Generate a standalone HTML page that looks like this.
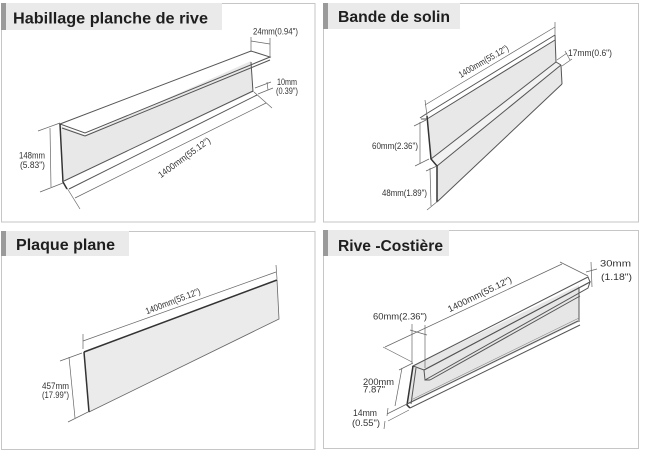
<!DOCTYPE html>
<html><head><meta charset="utf-8"><style>
html,body{margin:0;padding:0;background:#fff}
svg{display:block}
.t{font-family:"Liberation Sans",sans-serif;font-weight:bold;font-size:16px;fill:#1e1e1e}
.d{font-family:"Liberation Sans",sans-serif;font-size:9px;fill:#333}
.e{stroke:#555;stroke-width:1;fill:none}
.k{stroke:#333;stroke-width:1.5;fill:none}
.m{stroke:#666;stroke-width:0.7;fill:none}
</style></head><body>
<svg width="650" height="458" viewBox="0 0 650 458" xmlns="http://www.w3.org/2000/svg">
<rect width="650" height="458" fill="#fff"/>
<!-- frames -->
<g fill="none" stroke="#c6c6c6" stroke-width="1">
<rect x="1.5" y="3.5" width="313.5" height="218.5"/>
<rect x="323.5" y="3.5" width="315" height="218.5"/>
<rect x="1.5" y="231.5" width="313.5" height="218"/>
<rect x="323.5" y="230.5" width="315" height="218"/>
</g>
<!-- headers -->
<rect x="1" y="3" width="221" height="27" fill="#eaeaea"/><rect x="1" y="3" width="5" height="27" fill="#9a9a9a"/>
<rect x="323" y="3" width="137" height="26" fill="#eaeaea"/><rect x="323" y="3" width="5" height="26" fill="#9a9a9a"/>
<rect x="1" y="231" width="128" height="25" fill="#eaeaea"/><rect x="1" y="231" width="5" height="25" fill="#9a9a9a"/>
<rect x="323" y="230" width="126" height="26" fill="#eaeaea"/><rect x="323" y="230" width="5" height="26" fill="#9a9a9a"/>
<text class="t" x="13" y="23.5" textLength="195" lengthAdjust="spacingAndGlyphs">Habillage planche de rive</text>
<text class="t" x="338" y="22" textLength="112" lengthAdjust="spacingAndGlyphs">Bande de solin</text>
<text class="t" x="16" y="250" textLength="99" lengthAdjust="spacingAndGlyphs">Plaque plane</text>
<text class="t" x="338" y="251" textLength="105" lengthAdjust="spacingAndGlyphs">Rive -Costière</text>

<!-- ============ PANEL 1 ============ -->
<polygon points="61,126 85,135 251,61 253,92 64,181" fill="#e8e8e8"/>
<polygon points="60,124 251,51 270,57 85,133" fill="#fff" class="e"/>
<line x1="85" y1="136" x2="270" y2="60" class="e"/>
<line x1="62" y1="128" x2="85" y2="136" class="e"/>
<polyline points="60,124 63,182 67,189" class="k"/>
<line x1="251" y1="62" x2="253" y2="92" class="e"/>
<line x1="64" y1="181" x2="253" y2="91" class="e"/>
<line x1="69" y1="189" x2="257" y2="95" class="e"/>
<!-- dims p1 -->
<line x1="67" y1="188" x2="80" y2="209" class="m"/>
<line x1="254" y1="92" x2="272" y2="108" class="m"/>
<line x1="75" y1="198" x2="266" y2="103" class="m"/>
<text class="d" transform="translate(186,160) rotate(-36)" text-anchor="middle" textLength="62" lengthAdjust="spacingAndGlyphs">1400mm(55.12")</text>
<line x1="50" y1="128" x2="51" y2="187" class="m"/>
<line x1="38" y1="131" x2="60" y2="123" class="m"/>
<line x1="40" y1="192" x2="63" y2="183" class="m"/>
<text class="d" x="19" y="158.5" textLength="26" lengthAdjust="spacingAndGlyphs">148mm</text>
<text class="d" x="20" y="168" textLength="25" lengthAdjust="spacingAndGlyphs">(5.83")</text>
<line x1="251" y1="37" x2="251" y2="52" class="m"/>
<line x1="270" y1="38" x2="270" y2="58" class="m"/>
<line x1="251" y1="41" x2="270" y2="44" class="m"/>
<text class="d" x="253" y="34.5" textLength="45" lengthAdjust="spacingAndGlyphs">24mm(0.94")</text>
<line x1="255" y1="88" x2="271" y2="82" class="m"/>
<line x1="258" y1="94" x2="273" y2="88" class="m"/>
<line x1="267" y1="82" x2="268" y2="90" class="m"/>
<text class="d" x="277" y="85" textLength="20" lengthAdjust="spacingAndGlyphs">10mm</text>
<text class="d" x="276" y="94" textLength="22" lengthAdjust="spacingAndGlyphs">(0.39")</text>

<!-- ============ PANEL 2 ============ -->
<polygon points="427,119 555,40 556,62 431,159" fill="#e8e8e8"/>
<polygon points="431,159 556,62 561,65 437,166" fill="#f2f2f2"/>
<polygon points="437,166 561,65 562,84 437,202" fill="#e8e8e8"/>
<polyline points="420,118 426,114 555,35" class="e"/>
<line x1="421" y1="119" x2="427" y2="119" class="e"/>
<line x1="427" y1="119" x2="555" y2="40" class="e"/>
<line x1="555" y1="35" x2="556" y2="62" class="e"/>
<line x1="431" y1="159" x2="556" y2="62" class="e"/>
<line x1="437" y1="166" x2="561" y2="65" class="e"/>
<line x1="556" y1="62" x2="561" y2="65" class="e"/>
<line x1="561" y1="65" x2="562" y2="84" class="e"/>
<line x1="437" y1="202" x2="562" y2="84" class="e"/>
<polyline points="427,116 431,159 437,166 437,202" class="k"/>
<!-- dims p2 -->
<line x1="425" y1="100" x2="427" y2="116" class="m"/>
<line x1="555" y1="22" x2="555" y2="35" class="m"/>
<line x1="425" y1="105" x2="555" y2="27" class="m"/>
<text class="d" transform="translate(485,64) rotate(-30)" text-anchor="middle" textLength="56" lengthAdjust="spacingAndGlyphs">1400mm(55.12")</text>
<line x1="557" y1="60" x2="567" y2="53" class="m"/>
<line x1="562" y1="66" x2="572" y2="59" class="m"/>
<line x1="565" y1="51" x2="570" y2="60" class="m"/>
<text class="d" x="568" y="56" textLength="44" lengthAdjust="spacingAndGlyphs">17mm(0.6")</text>
<line x1="420" y1="122" x2="420" y2="164" class="m"/>
<line x1="414" y1="126" x2="426" y2="120" class="m"/>
<line x1="415" y1="166" x2="429" y2="159" class="m"/>
<text class="d" x="372" y="149" textLength="46" lengthAdjust="spacingAndGlyphs">60mm(2.36")</text>
<line x1="430" y1="168" x2="431" y2="206" class="m"/>
<line x1="426" y1="171" x2="437" y2="166" class="m"/>
<line x1="427" y1="210" x2="438" y2="201" class="m"/>
<text class="d" x="382" y="196" textLength="45" lengthAdjust="spacingAndGlyphs">48mm(1.89")</text>

<!-- ============ PANEL 3 ============ -->
<polygon points="84,352 277,280 279,319 89,412" fill="#ebebeb" stroke="#666" stroke-width="0.8"/>
<line x1="84" y1="352" x2="277" y2="280" class="k"/>
<line x1="84" y1="352" x2="89" y2="412" class="k"/>
<line x1="83" y1="334" x2="83" y2="349" class="m"/>
<line x1="276" y1="265" x2="277" y2="279" class="m"/>
<line x1="83" y1="341" x2="276" y2="272" class="m"/>
<text class="d" transform="translate(174,304) rotate(-21)" text-anchor="middle" textLength="58" lengthAdjust="spacingAndGlyphs">1400mm(55.12")</text>
<line x1="69" y1="357" x2="75" y2="418" class="m"/>
<line x1="60" y1="361" x2="82" y2="353" class="m"/>
<line x1="68" y1="422" x2="88" y2="412" class="m"/>
<text class="d" x="42" y="389" textLength="27" lengthAdjust="spacingAndGlyphs">457mm</text>
<text class="d" x="42" y="398" textLength="27" lengthAdjust="spacingAndGlyphs">(17.99")</text>

<!-- ============ PANEL 4 ============ -->
<polygon points="413,366 407,405 579,322 579,285" fill="#e6e6e6"/>
<polygon points="413,366 588,277 590,282 424,370" fill="#fff" class="e"/>
<polygon points="424,370 590,282 588,288 425,380" fill="#f5f4ef" class="e"/>
<line x1="425" y1="380" x2="430" y2="380" class="e"/>
<line x1="430" y1="380" x2="580" y2="296" class="e"/>
<line x1="579" y1="287" x2="579" y2="322" class="e"/>
<polyline points="413,366 407,405 410,408" class="k"/>
<line x1="416" y1="368" x2="411" y2="404" class="e"/>
<line x1="407" y1="404" x2="578" y2="321" class="e"/>
<line x1="410" y1="408" x2="580" y2="325" class="e"/>
<line x1="411" y1="400" x2="579" y2="318" stroke="#888" stroke-width="0.6"/>
<!-- dims p4 -->
<line x1="412" y1="324" x2="412" y2="364" class="m"/>
<line x1="425" y1="325" x2="425" y2="368" class="m"/>
<line x1="410" y1="330" x2="427" y2="335" class="m"/>
<text class="d" x="373" y="319.5" textLength="54" lengthAdjust="spacingAndGlyphs">60mm(2.36")</text>
<line x1="383" y1="347" x2="412" y2="362" class="m"/>
<line x1="385" y1="347" x2="562" y2="264" class="m"/>
<line x1="560" y1="262" x2="588" y2="276" class="m"/>
<text class="d" transform="translate(481,297) rotate(-26)" text-anchor="middle" textLength="70" lengthAdjust="spacingAndGlyphs">1400mm(55.12")</text>
<line x1="591" y1="262" x2="592" y2="287" class="m"/>
<line x1="586" y1="272" x2="597" y2="269" class="m"/>
<text class="d" x="600" y="266.5" textLength="31" lengthAdjust="spacingAndGlyphs">30mm</text>
<text class="d" x="601" y="280" textLength="31" lengthAdjust="spacingAndGlyphs">(1.18")</text>
<line x1="402" y1="368" x2="395" y2="406" class="m"/>
<line x1="399" y1="370" x2="413" y2="363" class="m"/>
<line x1="387" y1="414" x2="407" y2="404" class="m"/>
<line x1="388" y1="421" x2="409" y2="410" class="m"/>
<line x1="388" y1="408" x2="387" y2="416" class="m"/>
<line x1="385" y1="421" x2="384" y2="429" class="m"/>
<text class="d" x="363" y="385" textLength="31" lengthAdjust="spacingAndGlyphs">200mm</text>
<text class="d" x="363" y="392.5" textLength="22" lengthAdjust="spacingAndGlyphs">7.87"</text>
<text class="d" x="353" y="416" textLength="24" lengthAdjust="spacingAndGlyphs">14mm</text>
<text class="d" x="352" y="426" textLength="28" lengthAdjust="spacingAndGlyphs">(0.55")</text>
</svg>
</body></html>
